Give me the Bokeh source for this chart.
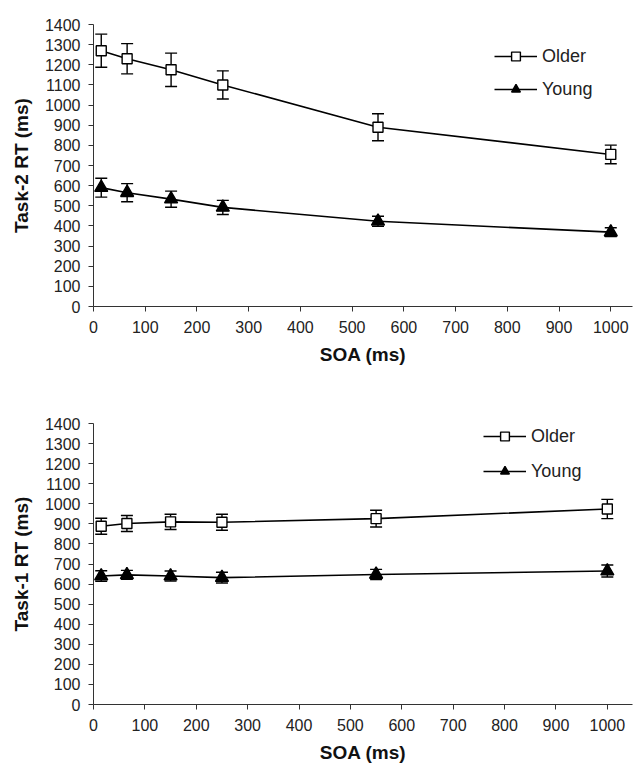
from bokeh.plotting import figure
from bokeh.layouts import column
from bokeh.models import (ColumnDataSource, Whisker, TeeHead, Range1d,
                          SingleIntervalTicker, Legend, LegendItem)
from bokeh.embed import file_html
from bokeh.resources import INLINE

# ---- data ----
soa = [15, 65, 150, 250, 550, 1000]

task2_older = [1270, 1230, 1175, 1100, 890, 755]
task2_older_err = [82, 75, 83, 70, 67, 46]
task2_young = [590, 565, 533, 492, 423, 369]
task2_young_err = [47, 45, 40, 35, 25, 22]

task1_older = [888, 902, 910, 908, 926, 974]
task1_older_err = [40, 40, 38, 40, 42, 48]
task1_young = [640, 646, 640, 632, 648, 665]
task1_young_err = [26, 22, 25, 27, 25, 30]

series_names = ["Older", "Young"]
y_ticks_interval = 100
x_ticks_interval = 100

FONT = "Liberation Sans"
TXT = "#222222"


def make_panel(ylabel, older, older_err, young, young_err, height,
               b_top, b_bottom, x_end, legend_xy, legend_spacing):
    p = figure(width=633, height=height, output_backend="svg",
               toolbar_location=None, x_range=Range1d(0, x_end),
               y_range=Range1d(0, 1400),
               min_border_left=93, min_border_right=1,
               min_border_top=b_top, min_border_bottom=b_bottom)
    p.outline_line_color = None
    p.xgrid.visible = False
    p.ygrid.visible = False
    p.background_fill_color = "white"

    for ax in (p.xaxis[0], p.yaxis[0]):
        ax.axis_line_color = "#333333"
        ax.major_tick_line_color = "#333333"
        ax.axis_line_width = 1
        ax.major_tick_out = 5
        ax.major_tick_in = 0
        ax.minor_tick_out = 0
        ax.minor_tick_in = 0
        ax.major_label_text_font = FONT
        ax.major_label_text_font_size = "16px"
        ax.major_label_text_color = TXT
        ax.axis_label_text_font = FONT
        ax.axis_label_text_font_style = "bold"
        ax.axis_label_text_font_size = "19px"
        ax.axis_label_text_color = "#111111"

    p.xaxis[0].ticker = SingleIntervalTicker(interval=x_ticks_interval, num_minor_ticks=0)
    p.yaxis[0].ticker = SingleIntervalTicker(interval=y_ticks_interval, num_minor_ticks=0)
    p.xaxis[0].axis_label = "SOA (ms)"
    p.yaxis[0].axis_label = ylabel
    p.xaxis[0].major_label_standoff = 9
    p.xaxis[0].axis_label_standoff = 8
    p.yaxis[0].major_label_standoff = 8
    p.yaxis[0].axis_label_standoff = 10

    items = []
    for name, vals, errs, marker, fill, size in (
            ("Older", older, older_err, "square", "white", 10),
            ("Young", young, young_err, "triangle", "black", 13)):
        src = ColumnDataSource(dict(
            x=soa, y=vals,
            upper=[v + e for v, e in zip(vals, errs)],
            lower=[v - e for v, e in zip(vals, errs)]))
        w = Whisker(source=src, base="x", upper="upper", lower="lower",
                    line_color="black", line_width=1.4, level="underlay",
                    upper_head=TeeHead(size=12, line_color="black", line_width=1.4),
                    lower_head=TeeHead(size=12, line_color="black", line_width=1.4))
        p.add_layout(w)
        ln = p.line("x", "y", source=src, line_color="black", line_width=1.6)
        sc = p.scatter("x", "y", source=src, marker=marker, size=size,
                       fill_color=fill, line_color="black", line_width=1.4)
        items.append(LegendItem(label=name, renderers=[ln, sc]))

    leg = Legend(items=items, location=legend_xy, orientation="vertical",
                 glyph_width=43, glyph_height=22, label_standoff=5,
                 spacing=legend_spacing, padding=0, margin=0,
                 border_line_color=None, background_fill_alpha=0,
                 label_text_font=FONT, label_text_font_size="18px",
                 label_text_color=TXT, label_height=21)
    p.add_layout(leg)
    return p


p1 = make_panel("Task-2 RT (ms)", task2_older, task2_older_err,
                task2_young, task2_young_err, height=380, b_top=24,
                b_bottom=74, x_end=1042, legend_xy=(401, 206), legend_spacing=11)
p2 = make_panel("Task-1 RT (ms)", task1_older, task1_older_err,
                task1_young, task1_young_err, height=386, b_top=43,
                b_bottom=62, x_end=1049, legend_xy=(390, 222), legend_spacing=13)

layout = column(p1, p2, spacing=0)
open("out.html", "w").write(file_html(layout, INLINE))
